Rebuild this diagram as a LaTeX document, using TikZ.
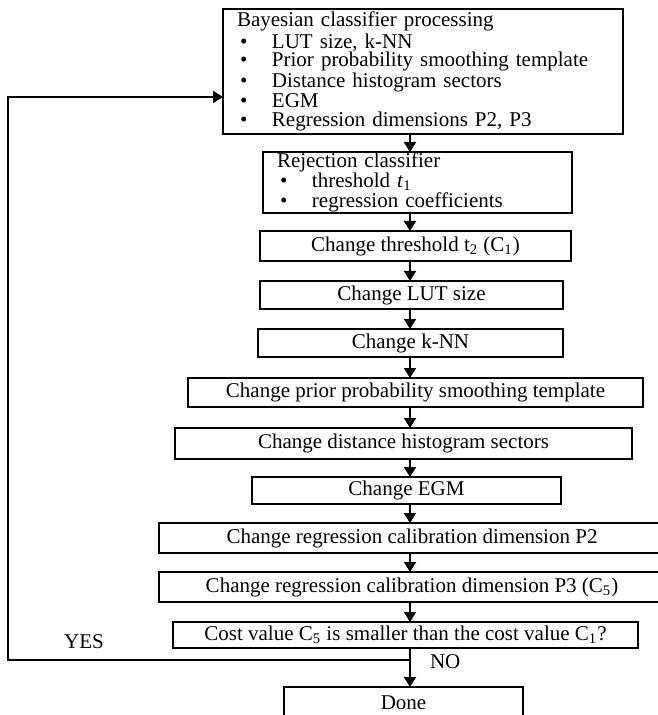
\documentclass[tikz,border=0pt]{standalone}
\usepackage{fontspec}
\setmainfont{Liberation Serif}
\usetikzlibrary{arrows.meta,positioning,calc}

\setlength{\lineskiplimit}{-20pt}
\newcommand{\lstitem}{\hspace*{1.5pt}\makebox[16pt][l]{\textbullet}}

\begin{document}
\begin{tikzpicture}[
    font=\fontsize{10.5}{9.2}\selectfont,
    box/.style={
        draw,
        line width=0.9pt,
        outer sep=0pt,
        inner xsep=7pt,
        inner ysep=1pt,
        minimum height=14pt,
        align=center
    },
    listbox/.style={box, align=left},
    arrow/.style={-{Triangle[length=5pt,width=6pt]}, line width=0.9pt}
]
\useasboundingbox (0,0) rectangle (328.5pt,-357.5pt);

\node[listbox, text width=186pt, minimum height=62.5pt, anchor=north] (bayes) at (211.5pt,-4.5pt)
    {Bayesian classifier processing\\
     \lstitem LUT size, k-NN\\
     \lstitem Prior probability smoothing template\\
     \lstitem Distance histogram sectors\\
     \lstitem EGM\\
     \lstitem Regression dimensions P2, P3};
\node[listbox, text width=140.5pt, minimum height=30.5pt, inner ysep=0.3pt,
      font=\fontsize{10.5}{10}\selectfont,
      below=9pt of bayes, xshift=-2.75pt] (reject)
    {Rejection classifier\\
     \lstitem threshold \textit{t}\textsubscript{1}\\
     \lstitem regression coefficients};
\node[box, minimum width=155.5pt, minimum height=15pt, below=9pt of reject, xshift=-1pt] (thres) {Change threshold t\textsubscript{2} (C\textsubscript{1})};
\node[box, minimum width=151.5pt, below=10pt of thres, xshift=-2pt] (lut) {Change LUT size};
\node[box, minimum width=152.5pt, below=10pt of lut, xshift=-0.5pt] (knn) {Change k-NN};
\node[box, minimum width=227.5pt, minimum height=14.5pt, below=10.5pt of knn, xshift=2.5pt] (prior) {Change prior probability smoothing template};
\node[box, minimum width=228.5pt, minimum height=15.5pt, below=10.5pt of prior, xshift=-6pt] (dist) {Change distance histogram sectors};
\node[box, minimum width=154.5pt, minimum height=13.5pt, below=9pt of dist, xshift=1.5pt] (egm) {Change EGM};
\node[box, minimum width=253pt, minimum height=15pt, below=9.5pt of egm, xshift=2.75pt] (pdimtwo) {Change regression calibration dimension P2};
\node[box, minimum width=253pt, minimum height=15pt, below=9.5pt of pdimtwo] (pdimthree) {Change regression calibration dimension P3 (C\textsubscript{5})};
\node[box, minimum width=232.5pt, minimum height=13pt, below=10pt of pdimthree, xshift=-3.25pt] (cost) {Cost value C\textsubscript{5} is smaller than the cost value C\textsubscript{1}?};
\node[box, minimum width=119.5pt, minimum height=16pt, below=19.5pt of cost, xshift=-1pt] (done) {Done};

% main line
\coordinate (spine) at (205pt,0);
\draw[arrow] (bayes.south -| spine) -- (reject.north -| spine);
\draw[arrow] (reject.south -| spine) -- (thres.north -| spine);
\draw[arrow] (thres.south -| spine) -- (lut.north -| spine);
\draw[arrow] (lut.south -| spine) -- (knn.north -| spine);
\draw[arrow] (knn.south -| spine) -- (prior.north -| spine);
\draw[arrow] (prior.south -| spine) -- (dist.north -| spine);
\draw[arrow] (dist.south -| spine) -- (egm.north -| spine);
\draw[arrow] (egm.south -| spine) -- (pdimtwo.north -| spine);
\draw[arrow] (pdimtwo.south -| spine) -- (pdimthree.north -| spine);
\draw[arrow] (pdimthree.south -| spine) -- (cost.north -| spine);
\draw[arrow] (cost.south -| spine) -- (done.north -| spine);

% loop back
\coordinate (branch) at ($(cost.south -| spine)+(0,-6pt)$);
\coordinate (entry) at ($(bayes.west)+(0,-12.75pt)$);
\coordinate (rail) at (4pt,0);
\draw[arrow] (branch) -| (rail |- entry) -- (entry);

\node (yes) at ($(rail |- branch)+(38pt,9pt)$) {YES};
\node[anchor=west] (no) at ($(branch)+(6.5pt,-1pt)$) {NO};
\end{tikzpicture}
\end{document}
